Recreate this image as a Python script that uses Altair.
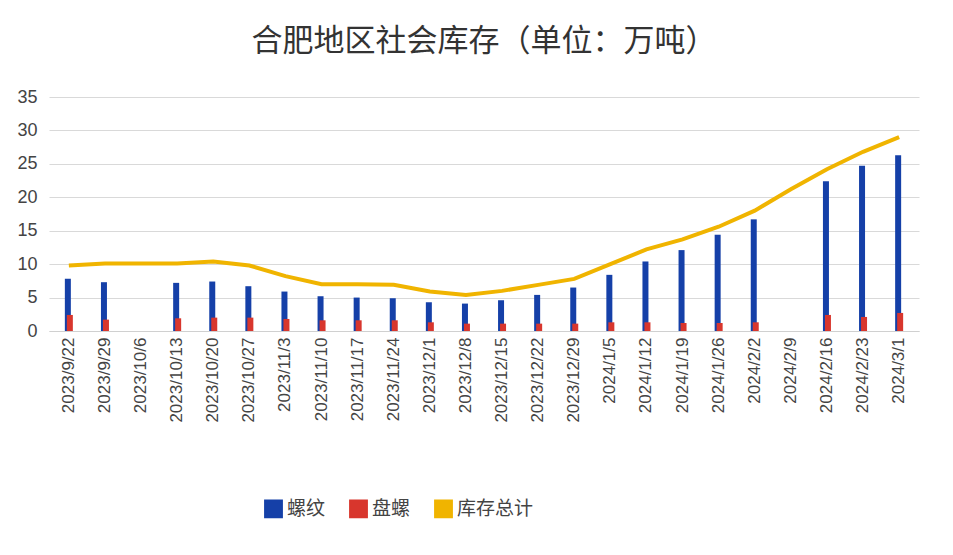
import pandas as pd
import altair as alt

dates = ["2023/9/22", "2023/9/29", "2023/10/6", "2023/10/13", "2023/10/20", "2023/10/27",
         "2023/11/3", "2023/11/10", "2023/11/17", "2023/11/24", "2023/12/1", "2023/12/8",
         "2023/12/15", "2023/12/22", "2023/12/29", "2024/1/5", "2024/1/12", "2024/1/19",
         "2024/1/26", "2024/2/2", "2024/2/9", "2024/2/16", "2024/2/23", "2024/3/1"]
rebar = [7.8, 7.3, None, 7.2, 7.4, 6.7, 5.9, 5.2, 5.0, 4.9, 4.3, 4.1,
         4.6, 5.4, 6.5, 8.4, 10.4, 12.1, 14.4, 16.7, None, 22.4, 24.7, 26.3]
coil = [2.4, 1.7, None, 1.9, 2.0, 2.0, 1.8, 1.6, 1.6, 1.6, 1.3, 1.1,
        1.1, 1.1, 1.1, 1.3, 1.3, 1.2, 1.2, 1.3, None, 2.4, 2.1, 2.7]
total = [9.8, 10.1, 10.1, 10.1, 10.4, 9.8, 8.2, 7.0, 7.0, 6.9, 5.9, 5.4,
         6.0, 6.9, 7.8, 10.0, 12.2, 13.7, 15.6, 18.0, 21.2, 24.2, 26.8, 29.0]

df = pd.DataFrame({"date": dates, "螺纹": rebar, "盘螺": coil, "库存总计": total})

names = ["螺纹", "盘螺", "库存总计"]
colors = ["#1540A8", "#D8362D", "#F0B400"]
color = alt.Color("series:N", scale=alt.Scale(domain=names, range=colors),
                  legend=alt.Legend(title=None, orient="none", direction="horizontal",
                                    legendX=215, legendY=402,
                                    symbolType="square", symbolSize=300, labelFontSize=19,
                                    labelFont="Noto Sans CJK SC", labelColor="#444",
                                    columnPadding=20))

x = alt.X("date:N", sort=dates, title=None,
          scale=alt.Scale(paddingInner=0, paddingOuter=0.05),
          axis=alt.Axis(labelAngle=-90, labelFontSize=17, labelColor="#444", ticks=False,
                        domainColor="#d0d0d0", labelPadding=6, labelFont="Liberation Sans"))
y = alt.Y("v:Q", title=None, scale=alt.Scale(domain=[0, 35]),
          axis=alt.Axis(values=list(range(0, 40, 5)), labelFontSize=18, labelColor="#444",
                        domain=False, ticks=False, gridColor="#d9d9d9", labelPadding=12,
                        labelFont="Liberation Sans"))

base = alt.Chart(df)
blue = base.transform_calculate(v="datum['螺纹']", series="'螺纹'").transform_filter(
    "datum.v != null").mark_bar(width=6, xOffset=-1).encode(x=x, y=y, color=color)
red = base.transform_calculate(v="datum['盘螺']", series="'盘螺'").transform_filter(
    "datum.v != null").mark_bar(width=6, xOffset=1).encode(x=x, y=y, color=color)
line = base.transform_calculate(v="datum['库存总计']", series="'库存总计'").mark_line(
    strokeWidth=4).encode(x=x, y=y, color=color)

chart = (blue + red + line).properties(
    width=870, height=234,
    title=alt.TitleParams("合肥地区社会库存（单位：万吨）", fontSize=31,
                          font="Noto Sans CJK SC", fontWeight="normal", color="#333", offset=30),
    padding={"left": 8, "right": 10, "top": 18, "bottom": 10},
).configure_view(stroke=None)

chart.save("out.html", embed_options={"renderer": "svg", "actions": False})
